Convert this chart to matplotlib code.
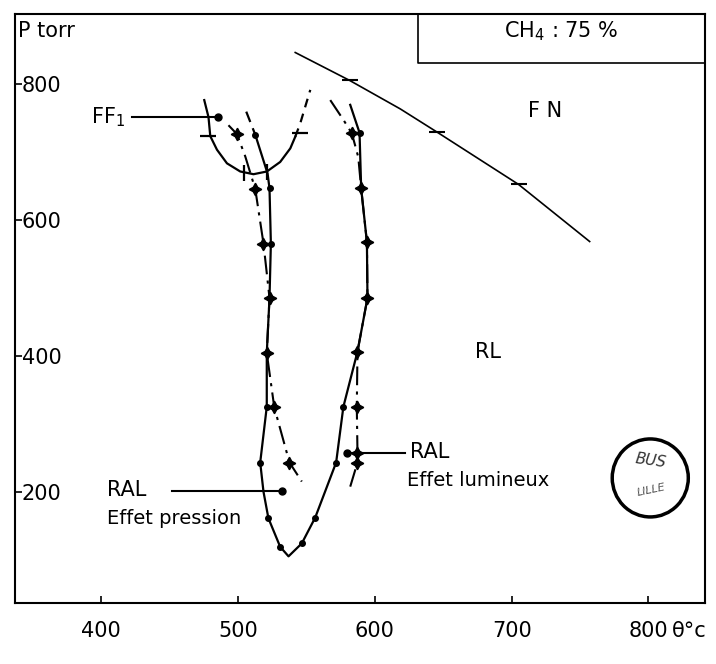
import matplotlib
matplotlib.use("Agg")
import matplotlib.pyplot as plt
from matplotlib.patches import Ellipse

# Temperature (deg C) / pressure (torr) readings
ff1_T = [475.3, 478.4, 479.7, 484.6, 491.9, 501.6, 511.3, 521.1, 530.8, 538.2, 541.8]
ff1_P = [777, 752, 724, 704, 684, 672, 668, 672, 686, 706, 723]
ff1_ext_T = [541.8, 545.5, 552.8]
ff1_ext_P = [723, 743, 792]
ff1_dash_T = [478, 545]
ff1_dash_P = [724, 729]
ff1_bar_T = [504, 521]
ff1_bar_P = [670, 671]

fn_T = [541.8, 581.5, 618.6, 645.4, 705.0, 757.0]
fn_P = [847, 806, 764, 730, 653, 569]
fn_dash_T = [581.5, 645.4, 705.0]
fn_dash_P = [806, 730, 653]

# RAL - effet pression (dots)
press_top_T = [506, 512.6]
press_top_P = [760, 726]
press_T = [512.6, 521.6, 523, 524, 523, 521, 521, 516.2, 518.6, 522.2, 530.8,
           536.9, 546.6, 556.4, 571.7, 577, 587.3, 594.6, 594.2, 590, 588.8, 582]
press_P = [726, 669, 647, 566, 486, 405, 326, 244, 201, 162, 120,
           106, 125, 163, 244, 326, 407, 486, 568, 647, 729, 770]
press_dot_T = [512.6, 523, 524, 523, 521, 521, 516.2, 522.2, 530.8, 546.6, 556.4,
               571.7, 577, 587.3, 594.6, 594.2, 590, 588.8]
press_dot_P = [726, 647, 566, 486, 405, 326, 244, 162, 120, 125, 163,
               244, 326, 407, 486, 568, 647, 729]

# RAL - effet lumineux (crosses)
lum_left_T = [493, 499.2, 505.3, 512.6, 518.6, 523, 521, 526.5, 537.6, 546.6]
lum_left_P = [740, 727, 694, 646, 566, 486, 405, 325, 244, 216]
lum_right_T = [567.4, 577, 583.2, 587.9, 590, 594.2, 594.6, 587.3, 586.8, 587.3, 587.3, 582]
lum_right_P = [777, 748, 728, 693, 647, 568, 486, 407, 326, 258.5, 244, 208.5]
lum_mark_T = [499.2, 512.6, 518.6, 523, 521, 526.5, 537.6,
              583.2, 590, 594.2, 594.6, 587.3, 586.8, 587.3, 587.3]
lum_mark_P = [727, 646, 566, 486, 405, 325, 244,
              728, 647, 568, 486, 407, 326, 258.5, 244]

x_ticks = [400, 500, 600, 700, 800]
y_ticks = [200, 400, 600, 800]

fig = plt.figure(figsize=(7.16, 6.64), dpi=100)
ax = fig.add_axes([0.021, 0.092, 0.964, 0.887])
ax.set_xlim(337, 841.5)
ax.set_ylim(37.5, 903.7)

for s in ax.spines.values():
    s.set_linewidth(1.5)

ax.set_xticks(x_ticks)
ax.set_xticklabels([str(v) for v in x_ticks])
ax.set_yticks(y_ticks)
ax.set_yticklabels([str(v) for v in y_ticks])
ax.tick_params(axis="x", direction="in", length=5, width=1.2, pad=13, labelsize=15)
ax.tick_params(axis="y", direction="in", length=5, width=1.2, pad=-5, labelsize=15)
for lbl in ax.get_yticklabels():
    lbl.set_horizontalalignment("left")

# FN boundary
ax.plot(fn_T, fn_P, color="black", lw=1.2)
ax.plot(fn_dash_T, fn_dash_P, ls="none", marker="_", ms=12, mew=1.5, color="black")

# FF1 curve
ax.plot(ff1_T, ff1_P, color="black", lw=1.6)
ax.plot(ff1_ext_T, ff1_ext_P, color="black", lw=1.6, ls=(0, (4, 3)))
ax.plot(ff1_dash_T, ff1_dash_P, ls="none", marker="_", ms=12, mew=1.6, color="black")
ax.plot(ff1_bar_T, ff1_bar_P, ls="none", marker="|", ms=11, mew=1.6, color="black")

# RAL curves
ax.plot(press_top_T, press_top_P, color="black", lw=1.6, ls=(0, (5, 3)))
ax.plot(press_T, press_P, color="black", lw=1.6)
ax.plot(press_dot_T, press_dot_P, ls="none", marker="o", ms=4, color="black")
dashdot = (0, (9, 3, 1.5, 3))
ax.plot(lum_left_T, lum_left_P, color="black", lw=1.5, ls=dashdot)
ax.plot(lum_right_T, lum_right_P, color="black", lw=1.5, ls=dashdot)
ax.plot(lum_mark_T, lum_mark_P, ls="none", marker=(4, 1, 0), ms=9, color="black")

# labels with pointers
ax.plot([422.7, 485.5], [752, 752], color="black", lw=1.5)
ax.plot([485.5], [752], marker="o", ms=5, color="black")
ax.text(417.5, 752, "FF$_1$", fontsize=15, ha="right", va="center")

ax.plot([452, 532], [202.6, 202.6], color="black", lw=1.5)
ax.plot([532], [202.6], marker="o", ms=5, color="black")
ax.text(404.5, 203, "RAL", fontsize=15, ha="left", va="center")
ax.text(404.5, 162, "Effet pression", fontsize=14, ha="left", va="center")

ax.plot([579.6, 622], [258.5, 258.5], color="black", lw=1.5)
ax.plot([579.6], [258.5], marker="o", ms=5, color="black")
ax.text(626, 259, "RAL", fontsize=15, ha="left", va="center")
ax.text(623.7, 218, "Effet lumineux", fontsize=14, ha="left", va="center")

ax.text(724.6, 761, "F N", fontsize=15, ha="center", va="center")
ax.text(683, 406, "RL", fontsize=15, ha="center", va="center")
ax.text(339.5, 878, "P torr", fontsize=15, ha="left", va="center")

# composition box in the top right corner
ax.plot([631.7, 631.7, 841.5], [903.7, 831.6, 831.6], color="black", lw=1.2)
ax.text(736, 879, "CH$_4$ : 75 %", fontsize=15, ha="center", va="center")

fig.text(672 / 716, 1 - 631 / 664, "\u03b8\u00b0c", fontsize=15, ha="left", va="center")

# library stamp
ax.add_patch(Ellipse((801.3, 221.3), 55.6, 114.7, fill=False, lw=2.5, color="black"))
ax.text(801.3, 246, "BUS", fontsize=11, style="italic", ha="center", va="center",
        rotation=-8, color="#333333")
ax.text(802, 204, "LILLE", fontsize=8, style="italic", ha="center", va="center",
        rotation=12, color="#555555")

fig.savefig("out.png", dpi=100)
plt.close(fig)
